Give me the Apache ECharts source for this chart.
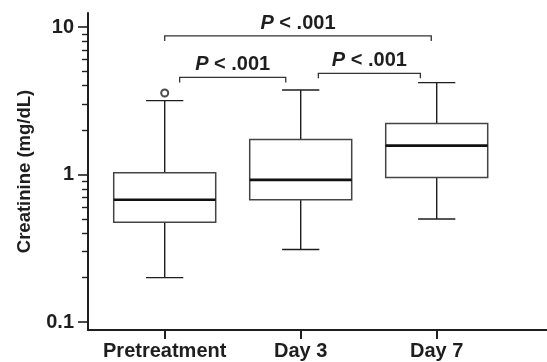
<!DOCTYPE html>
<html>
<head>
<meta charset="utf-8">
<script src="https://cdn.jsdelivr.net/npm/echarts@6/dist/echarts.min.js"></script>
<style>
  html, body { margin: 0; padding: 0; background: #fff; }
  #chart { width: 547px; height: 362px; }
</style>
</head>
<body>
<div id="chart"></div>
<script>
// categories and box statistics (mg/dL)
const categories = ['Pretreatment', 'Day 3', 'Day 7'];
const lowWhisker = [0.20, 0.31, 0.50];
const q1 = [0.475, 0.674, 0.954];
const median = [0.674, 0.92, 1.57];
const q3 = [1.03, 1.73, 2.22];
const highWhisker = [3.17, 3.74, 4.2];
const outliers = [[0, 3.57]];

// y ticks
const yMajor = [0.1, 1, 10];
const yMajorLabels = ['0.1', '1', '10'];
const yMinor = [0.2, 0.3, 0.4, 0.5, 0.6, 0.7, 0.8, 0.9, 2, 3, 4, 5, 6, 7, 8, 9];

// significance brackets: from / to (category units), height (mg/dL), text
const bracketFrom = [0, 0.11, 1.13];
const bracketTo = [1.96, 0.89, 1.88];
const bracketY = [8.7, 4.55, 4.85];
const bracketText = ['P < .001', 'P < .001', 'P < .001'];

const FONT = 'Liberation Sans';
const INK = '#1e1e1e';

const chart = echarts.init(document.getElementById('chart'), null, { renderer: 'canvas' });

function renderBox(params, api) {
  const x = api.value(0);
  const band = api.coord([x + 0.5, 1])[0] - api.coord([x - 0.5, 1])[0];
  const half = band * 0.375;
  const capHalf = band * 0.137;
  const lo = api.coord([x, api.value(1)]);
  const b1 = api.coord([x, api.value(2)]);
  const md = api.coord([x, api.value(3)]);
  const b3 = api.coord([x, api.value(4)]);
  const hi = api.coord([x, api.value(5)]);
  const cx = lo[0];
  const wStyle = { stroke: INK, lineWidth: 1.4 };
  return {
    type: 'group',
    children: [
      { type: 'line', shape: { x1: cx, y1: hi[1], x2: cx, y2: b3[1] }, style: wStyle },
      { type: 'line', shape: { x1: cx, y1: b1[1], x2: cx, y2: lo[1] }, style: wStyle },
      { type: 'line', shape: { x1: cx - capHalf, y1: hi[1], x2: cx + capHalf, y2: hi[1] }, style: wStyle },
      { type: 'line', shape: { x1: cx - capHalf, y1: lo[1], x2: cx + capHalf, y2: lo[1] }, style: wStyle },
      { type: 'rect', shape: { x: cx - half, y: b3[1], width: half * 2, height: b1[1] - b3[1] },
        style: { fill: '#fff', stroke: '#444', lineWidth: 1.5 } },
      { type: 'line', shape: { x1: cx - half, y1: md[1], x2: cx + half, y2: md[1] },
        style: { stroke: '#111', lineWidth: 2.6 } }
    ]
  };
}

function renderBracket(params, api) {
  const a = api.coord([api.value(0), api.value(2)]);
  const b = api.coord([api.value(1), api.value(2)]);
  const leg = 5;
  const text = bracketText[params.dataIndex];
  return {
    type: 'group',
    children: [
      { type: 'polyline',
        shape: { points: [[a[0], a[1] + leg], [a[0], a[1]], [b[0], b[1]], [b[0], b[1] + leg]] },
        style: { stroke: '#333', lineWidth: 1.3, fill: null } },
      { type: 'text',
        style: {
          x: (a[0] + b[0]) / 2, y: a[1] - 12.5,
          text: '{i|' + text.charAt(0) + '}{n|' + text.slice(1) + '}',
          align: 'center', verticalAlign: 'middle',
          rich: {
            i: { fontFamily: FONT, fontWeight: 'bold', fontStyle: 'italic', fontSize: 20, fill: INK },
            n: { fontFamily: FONT, fontWeight: 'bold', fontSize: 20, fill: INK }
          }
        } }
    ]
  };
}

const yMin = Math.pow(10, -1.054);
const yMax = Math.pow(10, 1.095);

chart.setOption({
  animation: false,
  grid: { left: 88, right: 0, top: 13, bottom: 32 },
  xAxis: {
    type: 'value',
    min: -0.564,
    max: 2.811,
    splitLine: { show: false },
    axisLine: { show: true, onZero: false, lineStyle: { color: INK, width: 2 } },
    axisTick: { show: true, customValues: [0, 1, 2], length: 9, lineStyle: { color: INK, width: 2 } },
    axisLabel: {
      customValues: [0, 1, 2],
      formatter: v => categories[Math.round(v)] || '',
      margin: 11,
      color: INK, fontFamily: FONT, fontWeight: 'bold', fontSize: 20
    }
  },
  yAxis: [{
    type: 'log',
    min: yMin,
    max: yMax,
    name: 'Creatinine (mg/dL)',
    nameLocation: 'middle',
    nameGap: 54,
    nameTextStyle: { color: INK, fontFamily: FONT, fontWeight: 'bold', fontSize: 18.5 },
    splitLine: { show: false },
    axisLine: { show: true, onZero: false, lineStyle: { color: INK, width: 2 } },
    axisTick: { show: true, customValues: yMajor, length: 10, lineStyle: { color: INK, width: 1.6 } },
    axisLabel: {
      customValues: yMajor,
      formatter: v => {
        const i = yMajor.findIndex(m => Math.abs(m - v) < 1e-6 * m);
        return i >= 0 ? yMajorLabels[i] : '';
      },
      margin: 14,
      color: INK, fontFamily: FONT, fontWeight: 'bold', fontSize: 20
    }
  }, {
    type: 'log',
    min: yMin,
    max: yMax,
    position: 'left',
    splitLine: { show: false },
    axisLine: { show: false, onZero: false },
    axisTick: { show: true, customValues: yMinor, length: 6, lineStyle: { color: INK, width: 1.4 } },
    axisLabel: { show: false }
  }],
  series: [{
    type: 'custom',
    renderItem: renderBox,
    encode: { x: 0, y: [1, 2, 3, 4, 5] },
    data: categories.map((c, i) => [i, lowWhisker[i], q1[i], median[i], q3[i], highWhisker[i]]),
    z: 2
  }, {
    type: 'scatter',
    data: outliers,
    symbol: 'emptyCircle',
    symbolSize: 7,
    itemStyle: { color: INK, borderColor: INK, borderWidth: 1.3 },
    z: 3
  }, {
    type: 'custom',
    renderItem: renderBracket,
    clip: false,
    encode: { x: [0, 1], y: 2 },
    data: bracketFrom.map((f, i) => [f, bracketTo[i], bracketY[i]]),
    z: 3
  }]
});
</script>
</body>
</html>
